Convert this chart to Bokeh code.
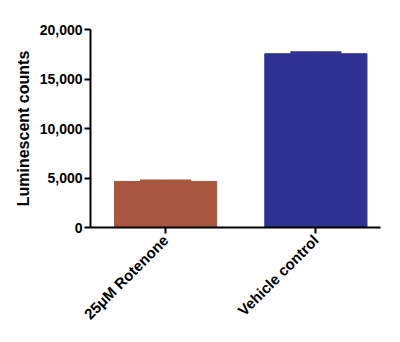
from bokeh.plotting import figure
from bokeh.models import Range1d, FixedTicker, NumeralTickFormatter, ColumnDataSource
from bokeh.embed import file_html
from bokeh.resources import INLINE
import math

categories = ["25\u03bcM Rotenone", "Vehicle control"]
means = [4650, 17550]
sems = [70, 130]
colors = ["#A85640", "#2E3192"]
xpos = [0.5, 1.5]
yticks = [0, 5000, 10000, 15000, 20000]

cap_half = 0.17
src = ColumnDataSource(dict(x=xpos, top=means,
                            upper=[m + s for m, s in zip(means, sems)],
                            x0=[x - cap_half for x in xpos], x1=[x + cap_half for x in xpos],
                            color=colors))

p = figure(width=400, height=342, output_backend="svg", toolbar_location=None,
           x_range=Range1d(0, 1.93), y_range=Range1d(0, 20000),
           min_border_left=90, min_border_right=20, min_border_top=29, min_border_bottom=115)
p.outline_line_color = None
p.xgrid.visible = False
p.ygrid.visible = False

p.vbar(x="x", top="top", width=0.68, bottom=0, fill_color="color", line_color="color", source=src)
p.segment(x0="x0", x1="x1", y0="upper", y1="upper", line_color="color", line_width=2.5, source=src)
p.segment(x0="x", x1="x", y0="top", y1="upper", line_color="color", line_width=2, source=src)

p.yaxis.ticker = FixedTicker(ticks=yticks)
p.yaxis.formatter = NumeralTickFormatter(format="0,0")
p.yaxis.axis_label = "Luminescent counts"
p.xaxis.ticker = FixedTicker(ticks=xpos)
p.xaxis.major_label_overrides = {0.5: categories[0], 1.5: categories[1]}
p.xaxis.major_label_orientation = math.pi / 4

for ax in (p.xaxis, p.yaxis):
    ax.axis_line_width = 2
    ax.axis_line_color = "black"
    ax.major_tick_line_width = 2
    ax.major_tick_line_color = "black"
    ax.major_tick_out = 6
    ax.major_tick_in = 0
    ax.minor_tick_line_color = None
    ax.major_label_text_font = "Liberation Sans"
    ax.major_label_text_font_style = "bold"
    ax.major_label_text_font_size = "14px"
    ax.major_label_text_color = "black"
    ax.major_label_standoff = 2
    ax.axis_label_text_font = "Liberation Sans"
    ax.axis_label_text_font_style = "bold"
    ax.axis_label_text_font_size = "16px"
    ax.axis_label_text_color = "black"
p.xaxis.major_label_standoff = 4
p.xaxis.major_label_text_font_size = "15px"

open("out.html", "w").write(file_html(p, INLINE))
